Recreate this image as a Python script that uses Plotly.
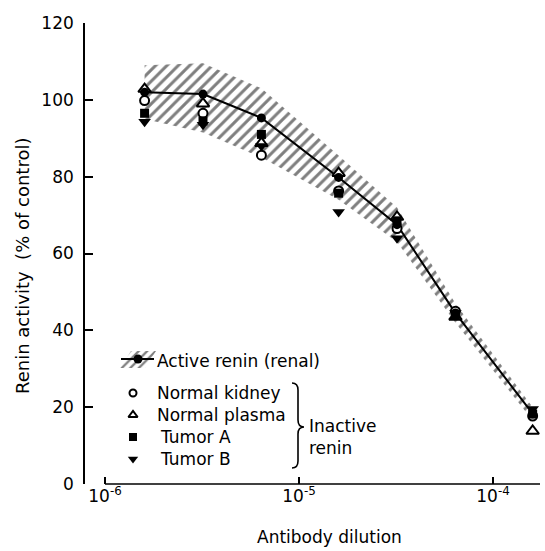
import math
import plotly.graph_objects as go

# Antibody dilutions tested
dilution = [1.6e-6, 3.2e-6, 6.4e-6, 1.6e-5, 3.2e-5, 6.4e-5, 1.6e-4]

# Renin activity, % of control
active_renin = [102.0, 101.5, 95.3, 79.8, 67.5, 44.5, 18.3]
normal_kidney = [99.8, 96.5, 85.6, 76.3, 66.5, 45.0, 17.7]
normal_plasma = [102.8, 99.0, 88.7, 80.9, 69.5, 43.5, 13.8]
tumor_a = [96.5, 94.5, 91.0, 75.7, 68.5, 44.0, 18.2]
tumor_b = [94.3, 93.5, 88.0, 70.8, 64.0, 44.5, 19.5]

# Spread of the active (renal) renin curve
band_upper = [109.0, 109.5, 103.0, 85.5, 72.0, 47.0, 20.0]
band_lower = [95.0, 91.5, 85.0, 74.0, 63.0, 42.0, 16.5]

y_ticks = [0, 20, 40, 60, 80, 100, 120]
x_tickvals = [1e-6, 1e-5, 1e-4]
x_ticktext = ["10<sup>-6</sup>", "10<sup>-5</sup>", "10<sup>-4</sup>"]

FONT = "DejaVu Sans"
W, H = 545, 551
ML, MR, MT, MB = 85, 5, 23, 67
X_RANGE = [-6.103, -3.758]


def px(x):
    """pixel column -> paper fraction"""
    return (x - ML) / (W - ML - MR)


def py(y):
    """pixel row -> paper fraction"""
    return (H - MB - y) / (H - MT - MB)


HATCH = dict(shape="/", fgcolor="black", bgcolor="rgba(0,0,0,0)", size=8, solidity=0.38)

fig = go.Figure()

# hatched band around the active renin curve
fig.add_trace(go.Scatter(
    x=dilution + dilution[::-1],
    y=band_upper + band_lower[::-1],
    mode="lines", fill="toself",
    line=dict(width=0, color="rgba(0,0,0,0)"),
    fillcolor="rgba(0,0,0,0)",
    fillpattern=HATCH,
    hoverinfo="skip",
))

# active renin line
fig.add_trace(go.Scatter(
    x=dilution, y=active_renin, mode="lines",
    line=dict(color="black", width=2), cliponaxis=False,
))

open_marker = dict(color="white", line=dict(color="black", width=2))
fig.add_trace(go.Scatter(x=dilution, y=normal_plasma, mode="markers", cliponaxis=False,
                         marker=dict(symbol="triangle-up", size=11, **open_marker)))
fig.add_trace(go.Scatter(x=dilution, y=normal_kidney, mode="markers", cliponaxis=False,
                         marker=dict(symbol="circle", size=9, **open_marker)))
fig.add_trace(go.Scatter(x=dilution, y=tumor_a, mode="markers", cliponaxis=False,
                         marker=dict(symbol="square", size=9, color="black")))
fig.add_trace(go.Scatter(x=dilution, y=tumor_b, mode="markers", cliponaxis=False,
                         marker=dict(symbol="triangle-down", size=11, color="black")))
fig.add_trace(go.Scatter(x=dilution, y=active_renin, mode="markers", cliponaxis=False,
                         marker=dict(symbol="circle", size=9, color="black")))

# ---- key (drawn on a paper-scaled overlay axis pair) ----
ov = dict(xaxis="x2", yaxis="y2", cliponaxis=False, hoverinfo="skip")
fig.add_trace(go.Scatter(
    x=[px(120), px(131), px(156), px(145), px(120)],
    y=[py(368), py(351), py(351), py(368), py(368)],
    mode="lines", fill="toself", line=dict(width=0, color="rgba(0,0,0,0)"),
    fillcolor="rgba(0,0,0,0)",
    fillpattern=dict(HATCH, size=6), **ov))
fig.add_trace(go.Scatter(
    x=[px(121), px(154)], y=[py(359), py(359)], mode="lines",
    line=dict(color="black", width=2), **ov))
fig.add_trace(go.Scatter(x=[px(138)], y=[py(359)], mode="markers",
                         marker=dict(symbol="circle", size=9, color="black"), **ov))
key_rows = [
    ("circle", 7, "white", 393, 155, "Normal kidney"),
    ("triangle-up", 8, "white", 415, 155, "Normal plasma"),
    ("square", 8, "black", 437, 158, "Tumor A"),
    ("triangle-down", 9, "black", 459, 158, "Tumor B"),
]
for sym, size, col, yrow, xtext, label in key_rows:
    fig.add_trace(go.Scatter(
        x=[px(133)], y=[py(yrow)], mode="markers",
        marker=dict(symbol=sym, size=size, color=col,
                    line=dict(color="black", width=2 if col == "white" else 0)),
        **ov))
    fig.add_annotation(x=px(xtext), y=py(yrow), xref="paper", yref="paper",
                       text=label, showarrow=False, xanchor="left", yanchor="middle",
                       font=dict(family=FONT, size=17, color="black"))

fig.add_annotation(x=px(155), y=py(361), xref="paper", yref="paper",
                   text="Active renin (renal)", showarrow=False,
                   xanchor="left", yanchor="middle",
                   font=dict(family=FONT, size=17, color="black"))
fig.add_annotation(x=px(307), y=py(437), xref="paper", yref="paper",
                   text="Inactive<br>renin", showarrow=False, align="left",
                   xanchor="left", yanchor="middle",
                   font=dict(family=FONT, size=17, color="black"))

# curly brace grouping the inactive renin sources
bx, btop, bmid, bbot = 292, 383, 427, 468
brace = (f"M {px(bx)} {py(btop)} "
         f"Q {px(bx + 6)} {py(btop)} {px(bx + 6)} {py(btop + 7)} "
         f"L {px(bx + 6)} {py(bmid - 7)} "
         f"Q {px(bx + 6)} {py(bmid)} {px(bx + 12)} {py(bmid)} "
         f"Q {px(bx + 6)} {py(bmid)} {px(bx + 6)} {py(bmid + 7)} "
         f"L {px(bx + 6)} {py(bbot - 7)} "
         f"Q {px(bx + 6)} {py(bbot)} {px(bx)} {py(bbot)}")
fig.add_shape(type="path", path=brace, xref="paper", yref="paper",
              line=dict(color="black", width=1.6))

# x axis line starts at the first decade tick
x_start = (math.log10(x_tickvals[0]) - X_RANGE[0]) / (X_RANGE[1] - X_RANGE[0])
fig.add_shape(type="line", xref="paper", yref="paper", x0=x_start, x1=1, y0=0, y1=0,
              line=dict(color="black", width=1.6))

# axis titles
fig.add_annotation(x=px(22), y=py(266), xref="paper", yref="paper",
                   text="Renin activity\u00a0\u00a0(% of control)", textangle=-90,
                   showarrow=False, xanchor="center", yanchor="middle",
                   font=dict(family=FONT, size=18, color="black"))
fig.add_annotation(x=px(329), y=py(537), xref="paper", yref="paper",
                   text="Antibody dilution", showarrow=False,
                   xanchor="center", yanchor="middle",
                   font=dict(family=FONT, size=17, color="black"))

fig.update_layout(
    width=W, height=H,
    margin=dict(l=ML, r=MR, t=MT, b=MB),
    paper_bgcolor="white", plot_bgcolor="white",
    showlegend=False,
    font=dict(family=FONT, size=17, color="black"),
    xaxis=dict(type="log", range=X_RANGE, tickvals=x_tickvals, ticktext=x_ticktext,
               ticks="inside", ticklen=7, tickwidth=1.6, tickcolor="black",
               showline=False, showgrid=False, zeroline=False,
               tickfont=dict(family=FONT, size=17, color="black")),
    yaxis=dict(range=[0, 120], tickvals=y_ticks, ticks="inside", ticklen=8,
               tickwidth=1.6, tickcolor="black", showline=True, linewidth=1.6,
               linecolor="black", showgrid=False, zeroline=False,
               ticklabelstandoff=6,
               tickfont=dict(family=FONT, size=17, color="black")),
    xaxis2=dict(overlaying="x", anchor="y2", range=[0, 1], visible=False),
    yaxis2=dict(overlaying="y", anchor="x2", range=[0, 1], visible=False),
)

fig.write_html("out.html")
